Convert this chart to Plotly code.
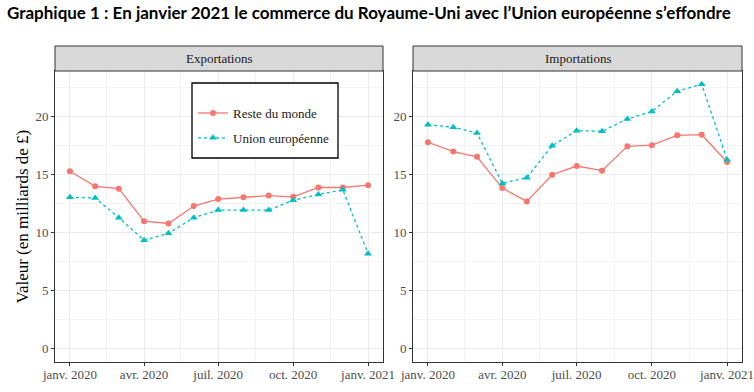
import plotly.graph_objects as go
import pandas as pd

# ---- data ----
mois = ["2020-01-01", "2020-02-01", "2020-03-01", "2020-04-01", "2020-05-01",
        "2020-06-01", "2020-07-01", "2020-08-01", "2020-09-01", "2020-10-01",
        "2020-11-01", "2020-12-01", "2021-01-01"]
export_rdm = [15.3, 14.0, 13.8, 11.0, 10.8, 12.3, 12.9, 13.05, 13.2, 13.1, 13.9, 13.9, 14.1]
export_ue = [13.05, 13.0, 11.3, 9.35, 9.95, 11.3, 11.95, 11.95, 11.95, 12.8, 13.3, 13.7, 8.2]
import_rdm = [17.8, 17.0, 16.55, 13.85, 12.7, 15.0, 15.75, 15.35, 17.45, 17.55, 18.4, 18.45, 16.1]
import_ue = [19.3, 19.1, 18.6, 14.25, 14.75, 17.5, 18.8, 18.75, 19.8, 20.45, 22.2, 22.8, 16.3]

tick_dates = ["2020-01-01", "2020-04-01", "2020-07-01", "2020-10-01", "2021-01-01"]
tick_text = ["janv. 2020", "avr. 2020", "juil. 2020", "oct. 2020", "janv. 2021"]
minor_dates = ["2020-02-15", "2020-05-16", "2020-08-16", "2020-11-16"]
y_ticks = [0, 5, 10, 15, 20]
y_minor = [2.5, 7.5, 12.5, 17.5, 22.5]
panels = ["Exportations", "Importations"]
series_names = ["Reste du monde", "Union européenne"]

RED = "#F8766D"
TEAL = "#00BFC4"
SERIF = "Liberation Serif"

W, H = 754, 392

# ---- scales (ggplot-like 5% expansion) ----
d = pd.to_datetime(mois)
span = d.max() - d.min()
x_range = [(d.min() - span * 0.05).isoformat(), (d.max() + span * 0.05).isoformat()]
ymax = max(max(export_rdm), max(export_ue), max(import_rdm), max(import_ue))
y_range = [0 - 0.05 * ymax, ymax * 1.05]

# ---- layout geometry (screen pixels) ----
px_left = [(55, 383), (413, 742)]
top_px, bot_px = 71, 362
strip_top = 46


def fx(p):
    return p / W


def fy(p):
    return (H - p) / H


fig = go.Figure()

data = [(export_rdm, export_ue), (import_rdm, import_ue)]
for i, (rdm, ue) in enumerate(data):
    xa = "x" if i == 0 else "x2"
    ya = "y" if i == 0 else "y2"
    fig.add_trace(go.Scatter(
        x=mois, y=rdm, mode="lines+markers", name=series_names[0],
        legendgroup="rdm", showlegend=(i == 0),
        line=dict(color=RED, width=1.3),
        marker=dict(symbol="circle", size=6, color=RED),
        xaxis=xa, yaxis=ya))
    fig.add_trace(go.Scatter(
        x=mois, y=ue, mode="lines+markers", name=series_names[1],
        legendgroup="ue", showlegend=(i == 0),
        line=dict(color=TEAL, width=1.3, dash="3px,3px"),
        marker=dict(symbol="triangle-up", size=7, color=TEAL),
        xaxis=xa, yaxis=ya))


def xaxis_cfg(i):
    l, r = px_left[i]
    return dict(
        domain=[fx(l), fx(r)], range=x_range, type="date",
        anchor="y" if i == 0 else "y2", automargin=False,
        tickmode="array", tickvals=tick_dates, ticktext=tick_text,
        ticklabeloverflow="allow", ticklabelstandoff=-3,
        ticks="outside", ticklen=3, tickcolor="#333333", tickwidth=1,
        tickfont=dict(family=SERIF, size=13, color="#4D4D4D"),
        showgrid=True, gridcolor="#EBEBEB", gridwidth=1,
        minor=dict(tickmode="array", tickvals=minor_dates, showgrid=True,
                   gridcolor="#F3F3F3", gridwidth=0.6, ticks=""),
        showline=True, mirror=True, linecolor="#333333", linewidth=1,
        zeroline=False, fixedrange=True)


def yaxis_cfg(i):
    return dict(
        domain=[fy(bot_px), fy(top_px)], range=y_range,
        anchor="x" if i == 0 else "x2", automargin=False,
        tickmode="array", tickvals=y_ticks,
        ticks="outside", ticklen=3, tickcolor="#333333", tickwidth=1,
        tickfont=dict(family=SERIF, size=13, color="#4D4D4D"),
        showgrid=True, gridcolor="#EBEBEB", gridwidth=1,
        minor=dict(tickmode="array", tickvals=y_minor, showgrid=True,
                   gridcolor="#F3F3F3", gridwidth=0.6, ticks=""),
        showline=True, mirror=True, linecolor="#333333", linewidth=1,
        zeroline=False, fixedrange=True)


shapes = []
annotations = []
for i, name in enumerate(panels):
    l, r = px_left[i]
    shapes.append(dict(type="rect", xref="paper", yref="paper",
                       x0=fx(l), x1=fx(r), y0=fy(top_px), y1=fy(strip_top),
                       fillcolor="#D9D9D9", line=dict(color="#333333", width=1)))
    annotations.append(dict(text=name, xref="paper", yref="paper",
                            x=fx((l + r) / 2), y=fy((strip_top + top_px) / 2),
                            xanchor="center", yanchor="middle", showarrow=False,
                            font=dict(family=SERIF, size=13, color="#1A1A1A")))

# legend box
shapes.append(dict(type="rect", xref="paper", yref="paper", layer="above",
                   x0=fx(192), x1=fx(338), y0=fy(158), y1=fy(83),
                   fillcolor="white", line=dict(color="black", width=1.3)))

annotations.append(dict(text="Valeur (en milliards de £)", xref="paper", yref="paper",
                        x=fx(22), y=fy((top_px + bot_px) / 2), textangle=-90,
                        xanchor="center", yanchor="middle", showarrow=False,
                        font=dict(family=SERIF, size=17, color="#000000")))

fig.update_layout(
    width=W, height=H,
    margin=dict(l=0, r=0, t=0, b=0, pad=0),
    paper_bgcolor="white", plot_bgcolor="white",
    xaxis=xaxis_cfg(0), xaxis2=xaxis_cfg(1),
    yaxis=yaxis_cfg(0), yaxis2=yaxis_cfg(1),
    shapes=shapes, annotations=annotations,
    title=dict(text="<b>Graphique 1 : En janvier 2021 le commerce du Royaume-Uni avec l’Union européenne s’effondre</b>",
               x=fx(7), xanchor="left", xref="paper", y=fy(13), yref="paper", yanchor="middle",
               font=dict(family="Lato", size=17, color="#000000")),
    legend=dict(x=fx(193), y=fy(98), xanchor="left", yanchor="top",
                bgcolor="rgba(0,0,0,0)", borderwidth=0,
                font=dict(family=SERIF, size=13, color="#1A1A1A"),
                tracegroupgap=5),
    showlegend=True,
)

# remove the browser's default 8px body margin so the figure fills the window
fig.write_html("out.html", config={"displayModeBar": False},
               post_script="document.body.style.margin='0px';")
